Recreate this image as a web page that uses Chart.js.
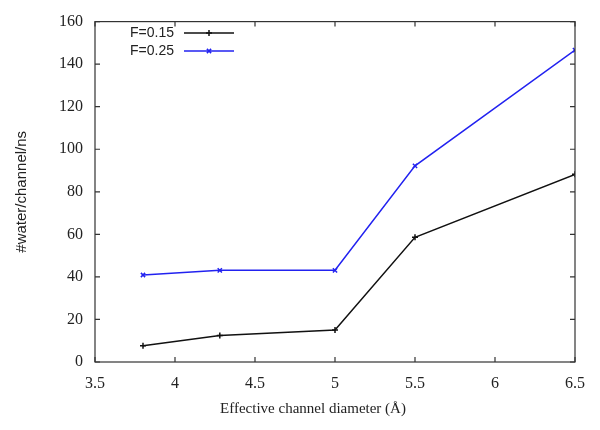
<!DOCTYPE html>
<html><head><meta charset="utf-8">
<script src="https://cdn.jsdelivr.net/npm/chart.js@4/dist/chart.umd.min.js"></script>
<style>html,body{margin:0;padding:0;background:#fff}#w{width:600px;height:430px}</style>
</head><body><div id="w"><canvas id="c" width="600" height="430"></canvas></div>
<script>
const diameters = [3.8, 4.28, 5.0, 5.5, 6.5];
const f015 = [7.6, 12.5, 15.0, 58.6, 88.2];
const f025 = [40.9, 43.1, 43.1, 92.2, 146.6];
const seriesLabels = ['F=0.15', 'F=0.25'];
const xTicks = [3.5, 4, 4.5, 5, 5.5, 6, 6.5];
const yTicks = [0, 20, 40, 60, 80, 100, 120, 140, 160];
const xTitle = 'Effective channel diameter (Å)';
const yTitle = '#water/channel/ns';

const serif = '"Liberation Serif", "DejaVu Serif", serif';
const sans = '"Liberation Sans", Arial, sans-serif';

const framePlugin = {
  id: 'frame',
  afterDraw(chart) {
    const ctx = chart.ctx, a = chart.chartArea;
    const xs = chart.scales.x, ys = chart.scales.y;
    ctx.save();
    ctx.strokeStyle = '#333';
    ctx.lineWidth = 1.2;
    ctx.strokeRect(a.left, a.top, a.right - a.left, a.bottom - a.top);
    ctx.beginPath();
    const tl = 5;
    xTicks.forEach(v => {
      const p = xs.getPixelForValue(v);
      ctx.moveTo(p, a.bottom); ctx.lineTo(p, a.bottom - tl);
      ctx.moveTo(p, a.top); ctx.lineTo(p, a.top + tl);
    });
    yTicks.forEach(v => {
      const p = ys.getPixelForValue(v);
      ctx.moveTo(a.left, p); ctx.lineTo(a.left + tl, p);
      ctx.moveTo(a.right, p); ctx.lineTo(a.right - tl, p);
    });
    ctx.stroke();
    // axis titles
    ctx.fillStyle = '#222';
    ctx.font = '15px ' + serif;
    ctx.textAlign = 'center';
    ctx.textBaseline = 'middle';
    ctx.fillText(xTitle, 313, 409);
    ctx.save();
    ctx.translate(22, (a.top + a.bottom) / 2);
    ctx.rotate(-Math.PI / 2);
    ctx.font = '15px ' + sans;
    ctx.fillText(yTitle, 0, 0);
    ctx.restore();
    // legend
    chart.data.datasets.forEach((ds, i) => {
      const y = 33 + i * 18;
      ctx.font = '14px ' + sans;
      ctx.textAlign = 'right';
      ctx.fillStyle = '#222';
      ctx.fillText(ds.label, 174, y);
      ctx.strokeStyle = ds.borderColor;
      ctx.lineWidth = 1.5;
      ctx.beginPath();
      ctx.moveTo(184, y); ctx.lineTo(234, y);
      ctx.stroke();
      Chart.helpers.drawPoint(ctx, {pointStyle: ds.pointStyle, radius: 3, borderWidth: 1.5, rotation: 0}, 209, y);
    });
    ctx.restore();
  }
};

new Chart(document.getElementById('c'), {
  type: 'line',
  data: {
    datasets: [
      { label: seriesLabels[0], data: diameters.map((x, i) => ({x, y: f015[i]})),
        borderColor: '#111', backgroundColor: '#111', borderWidth: 1.5,
        pointStyle: 'cross', pointRadius: 3, pointBorderWidth: 1.5, tension: 0 },
      { label: seriesLabels[1], data: diameters.map((x, i) => ({x, y: f025[i]})),
        borderColor: '#2222f0', backgroundColor: '#2222f0', borderWidth: 1.5,
        pointStyle: 'crossRot', pointRadius: 3, pointBorderWidth: 1.5, tension: 0 }
    ]
  },
  options: {
    responsive: false,
    animation: false,
    devicePixelRatio: 1,
    layout: { padding: { top: 17, right: 25, left: 0, bottom: 0 } },
    plugins: { legend: { display: false }, tooltip: { enabled: false } },
    scales: {
      x: {
        type: 'linear', min: 3.5, max: 6.5,
        afterBuildTicks: s => { s.ticks = xTicks.map(v => ({value: v})); },
        afterFit: s => { s.height = 68; },
        grid: { display: false, drawTicks: false },
        border: { display: false },
        ticks: { padding: 12, color: '#222', font: { family: serif, size: 16 }, maxRotation: 0,
                 callback: v => String(v) }
      },
      y: {
        type: 'linear', min: 0, max: 160,
        afterBuildTicks: s => { s.ticks = yTicks.map(v => ({value: v})); },
        afterFit: s => { s.width = 95; },
        grid: { display: false, drawTicks: false },
        border: { display: false },
        ticks: { padding: 12, color: '#222', font: { family: serif, size: 16 },
                 callback: v => String(v) }
      }
    }
  },
  plugins: [framePlugin]
});
</script>
</body></html>
